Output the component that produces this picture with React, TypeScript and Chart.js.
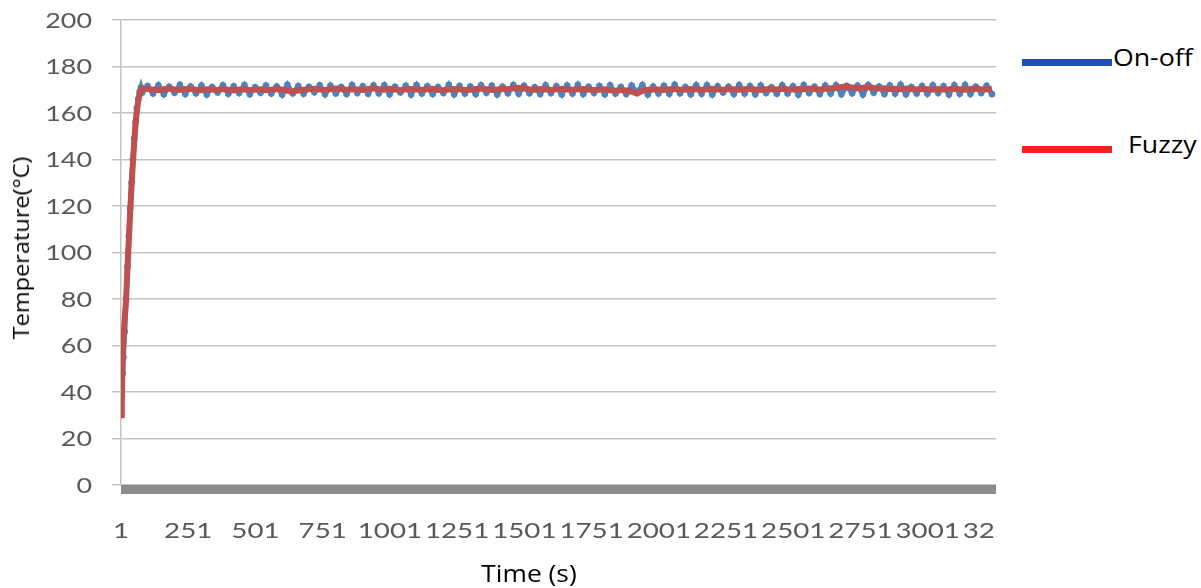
import React, { useEffect, useRef } from "react";
import { Chart, registerables } from "chart.js";

Chart.register(...registerables);

// ---- data ----
const riseTimes = [1, 4, 7, 10, 15, 20, 25, 30, 35, 40, 45, 50, 55, 60, 65, 70, 75, 80];
const onOffRise = [38, 42, 48, 55, 66, 80, 94, 107, 119, 130, 140, 149, 156, 162, 166, 169, 171, 168.8];
const fuzzyRise = [30, 36, 55, 63, 72, 80, 93, 105, 117, 128, 138, 147, 155, 161, 165, 168, 170, 170.5];

const STEADY_START = 100;
const STEADY_STEP = 20;

const onOffSteady = [
  171.6, 168.4, 171.9, 168.1, 171.3, 168.7, 172.1, 168.2, 171.4, 168.5,
  171.8, 168.0, 171.2, 168.8, 171.9, 168.3, 171.5, 168.6, 172.0, 168.1,
  171.1, 168.7, 171.8, 168.4, 171.4, 168.0, 172.1, 168.5, 171.6, 168.3,
  171.3, 168.9, 171.9, 168.1, 171.7, 168.4, 171.2, 168.2, 172.0, 168.6,
  171.5, 168.3, 171.8, 168.5, 171.9, 168.1, 171.3, 168.8, 171.7, 168.0,
  172.0, 168.4, 171.5, 168.2, 171.2, 168.6, 172.1, 168.1, 171.6, 168.4,
  171.4, 168.2, 171.9, 168.7, 171.7, 168.0, 171.3, 168.5, 172.0, 168.3,
  171.7, 168.5, 171.1, 168.2, 171.9, 168.6, 171.5, 168.0, 171.8, 168.4,
  172.1, 168.2, 171.3, 168.6, 171.6, 168.1, 171.9, 168.4, 171.2, 168.2,
  171.8, 168.7, 172.0, 168.0, 171.4, 168.4, 171.7, 168.3, 172.1, 168.5,
  171.2, 168.1, 171.9, 168.3, 171.9, 168.0, 171.5, 168.8, 171.3, 168.2,
  172.0, 168.4, 171.6, 168.1, 171.8, 168.6, 171.1, 168.3, 171.9, 168.4,
  171.5, 168.0, 172.0, 168.6, 171.3, 168.2, 171.8, 168.4, 171.9, 168.1,
  171.6, 168.5, 171.7, 168.0, 172.0, 168.7, 171.4, 168.2, 171.8, 168.4,
  172.1, 168.1, 171.2, 168.4, 171.6, 168.3, 171.9, 168.6, 171.5, 168.0,
  171.9, 168.3, 172.0, 168.2, 171.3, 168.6, 171.7, 168.1,
];

const fuzzySteady = [
  170.3, 170.1, 169.8, 170.2, 170.5, 170.1, 169.9, 170.3, 170.4, 170,
  169.8, 170.2, 170.1, 169.9, 170.3, 170, 169.7, 170.1, 170.2, 169.9,
  170, 170.2, 169.8, 170, 170.3, 170.1, 169.6, 169.3, 169.7, 170,
  170.2, 170.4, 170.1, 169.9, 170.2, 170.5, 170.3, 170, 170.2, 170.1,
  169.9, 170.3, 170.6, 170.2, 170, 170.4, 170.1, 169.8, 170.2, 170.3,
  170.1, 169.9, 170.2, 170.4, 170, 169.8, 170.1, 170.3, 170.2, 169.9,
  170, 170.3, 170.5, 170.2, 169.9, 170.1, 170.4, 170.2, 170.6, 170.8,
  170.5, 170.2, 170, 170.3, 170.1, 169.9, 170.2, 170.4, 170.1, 170,
  170.2, 170.3, 170.1, 169.9, 170, 170.2, 169.8, 169.6, 169.9, 169.7,
  169.2, 168.4, 169.5, 170, 170.2, 170.1, 169.9, 170.2, 170.3, 170,
  170.1, 170.3, 170.2, 169.9, 170.2, 170.4, 170.1, 170, 170.3, 170.2,
  170, 170.2, 170.4, 170.1, 169.9, 170.2, 170.3, 170.1, 170.4, 170.2,
  170.1, 170.3, 170.2, 170.5, 170.3, 170.1, 170.4, 170.6, 170.8, 171.2,
  171.4, 171, 170.7, 170.9, 171.3, 170.8, 170.5, 170.6, 170.3, 170.4,
  170.2, 170.5, 170.3, 170.1, 170.4, 170.2, 170, 170.3, 170.1, 170.2,
  170.4, 170.2, 170, 170.3, 170.5, 170.2, 170.1, 170.4,
];

const xTickLabels = [1, 251, 501, 751, 1001, 1251, 1501, 1751, 2001, 2251, 2501, 2751, 3001, 3251];
const yTickLabels = [0, 20, 40, 60, 80, 100, 120, 140, 160, 180, 200];
const X_MIN = 1;
const X_MAX = 3255;

const seriesNames = ["On-off", "Fuzzy"];

function buildPoints(rise: number[], steady: number[]) {
  const pts = rise.map((v, i) => ({ x: riseTimes[i], y: v }));
  steady.forEach((v, i) => pts.push({ x: STEADY_START + STEADY_STEP * i, y: v }));
  return pts;
}

const TICK_FONT = "21px Lato";
const TICK_COLOR = "#595959";

const customAxes = {
  id: "customAxes",
  beforeDatasetsDraw(chart: any) {
    const { ctx, chartArea } = chart;
    ctx.save();
    ctx.fillStyle = "#8c8c8c";
    ctx.fillRect(chartArea.left, chartArea.bottom, chartArea.right - chartArea.left, 9);
    ctx.restore();
  },
  afterDraw(chart: any) {
    const { ctx, chartArea } = chart;
    const xs = chart.scales.x;
    const ys = chart.scales.y;
    ctx.save();
    ctx.font = TICK_FONT;
    ctx.fillStyle = TICK_COLOR;
    ctx.textBaseline = "alphabetic";
    // y labels
    ctx.textAlign = "right";
    yTickLabels.forEach((v) => {
      const py = ys.getPixelForValue(v);
      ctx.save();
      ctx.translate(92, py + 7.5);
      ctx.scale(1.28, 1);
      ctx.fillText(String(v), 0, 0);
      ctx.restore();
    });
    // x labels (clipped at the plot's right edge)
    ctx.save();
    ctx.beginPath();
    ctx.rect(0, chartArea.bottom, chartArea.right + 1, chart.height - chartArea.bottom);
    ctx.clip();
    ctx.textAlign = "center";
    xTickLabels.forEach((v) => {
      const px = xs.getPixelForValue(v);
      ctx.save();
      ctx.translate(px, 538);
      ctx.scale(1.32, 1);
      ctx.fillText(String(v), 0, 0);
      ctx.restore();
    });
    ctx.restore();
    ctx.restore();
  },
};

export default function App() {
  const canvasRef = useRef<HTMLCanvasElement | null>(null);

  useEffect(() => {
    const canvas = canvasRef.current;
    if (!canvas) return;
    const chart = new Chart(canvas, {
      type: "line",
      data: {
        datasets: [
          {
            label: seriesNames[1],
            data: buildPoints(fuzzyRise, fuzzySteady),
            borderColor: "#c0504d",
            borderWidth: 6,
            pointRadius: 0,
            tension: 0,
            order: 0,
          },
          {
            label: seriesNames[0],
            data: buildPoints(onOffRise, onOffSteady),
            borderColor: "#4f81bd",
            backgroundColor: "#4f81bd",
            borderWidth: 5,
            pointRadius: 3.3,
            pointBorderWidth: 0,
            pointBackgroundColor: "#4f81bd",
            tension: 0,
            order: 1,
          },
        ],
      },
      options: {
        animation: false,
        responsive: false,
        devicePixelRatio: 1,
        layout: { padding: { top: 20, left: 0, right: -3, bottom: 0 } },
        plugins: {
          legend: { display: false },
          tooltip: { enabled: false },
        },
        scales: {
          x: {
            type: "linear",
            min: X_MIN,
            max: X_MAX,
            ticks: { display: false },
            grid: { display: false, drawTicks: false },
            border: { display: false },
            afterFit: (s: any) => {
              s.height = 103;
              s.paddingLeft = 0;
              s.paddingRight = 0;
            },
          },
          y: {
            min: 0,
            max: 200,
            ticks: { display: false, stepSize: 20 },
            grid: { color: "#c3c3c3", lineWidth: 1.5, drawTicks: true, tickLength: 9 },
            border: { display: true, color: "#c3c3c3", width: 1.5 },
            afterFit: (s: any) => {
              s.width = 121;
              s.paddingTop = 0;
              s.paddingBottom = 0;
            },
          },
        },
      },
      plugins: [customAxes],
    });
    if ((document as any).fonts && (document as any).fonts.load) {
      (document as any).fonts.load(TICK_FONT).then(() => chart.draw()).catch(() => {});
    }
    return () => chart.destroy();
  }, []);

  const titleFont = "'Open Sans', 'Noto Sans', sans-serif";

  return (
    <div
      style={{
        position: "fixed",
        left: 0,
        top: 0,
        width: 1201,
        height: 588,
        background: "#ffffff",
        overflow: "hidden",
      }}
    >
      <canvas
        ref={canvasRef}
        width={1000}
        height={588}
        style={{ position: "absolute", left: 0, top: 0, width: 1000, height: 588 }}
      />
      {/* y axis title */}
      <div
        style={{
          position: "absolute",
          left: 20,
          top: 248,
          transform: "translate(-50%, -50%) rotate(-90deg) scaleX(1.07)",
          fontFamily: titleFont,
          fontSize: 22,
          lineHeight: "22px",
          whiteSpace: "nowrap",
          color: "#000",
        }}
      >
        Temperature(°C)
      </div>
      {/* x axis title */}
      <div
        style={{
          position: "absolute",
          left: 529,
          top: 561,
          transform: "translateX(-50%) scaleX(1.1)",
          fontFamily: titleFont,
          fontSize: 24,
          lineHeight: "24px",
          whiteSpace: "nowrap",
          color: "#000",
        }}
      >
        Time (s)
      </div>
      {/* legend */}
      <div style={{ position: "absolute", left: 1022, top: 59, width: 90, height: 7, background: "#1f4eb4" }} />
      <div
        style={{
          position: "absolute",
          left: 1113,
          top: 46,
          transform: "scaleX(1.16)",
          transformOrigin: "left top",
          fontFamily: titleFont,
          fontSize: 23,
          lineHeight: "23px",
          whiteSpace: "nowrap",
          color: "#000",
        }}
      >
        {seriesNames[0]}
      </div>
      <div style={{ position: "absolute", left: 1022, top: 146, width: 90, height: 7, background: "#f2201f" }} />
      <div
        style={{
          position: "absolute",
          left: 1128,
          top: 133,
          transform: "scaleX(1.16)",
          transformOrigin: "left top",
          fontFamily: titleFont,
          fontSize: 23,
          lineHeight: "23px",
          whiteSpace: "nowrap",
          color: "#000",
        }}
      >
        {seriesNames[1]}
      </div>
    </div>
  );
}
